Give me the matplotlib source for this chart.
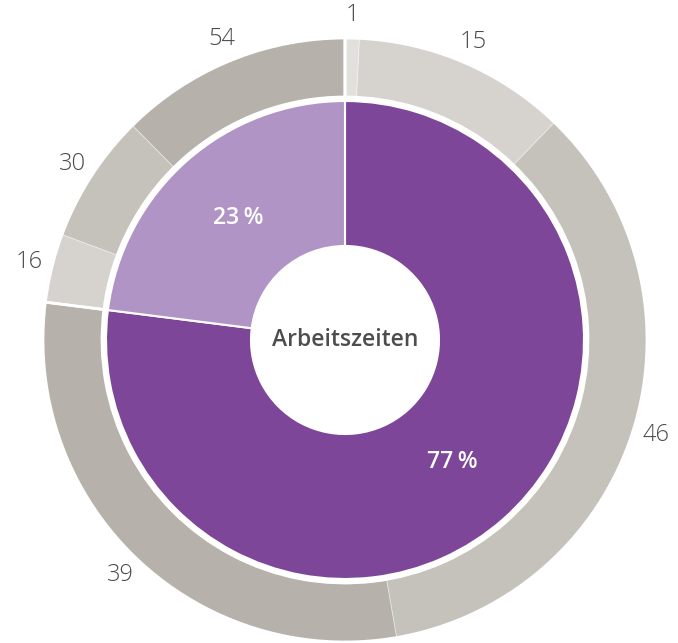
import matplotlib.pyplot as plt

# ----------------------------
# Data
# ----------------------------
inner_labels = ["77\u2009%", "23\u2009%"]
inner_values = [77, 23]

# outer ring: shares inside each inner group (clockwise from top)
outer_group1 = [1, 15, 46, 39]
outer_group2 = [16, 30, 54]

inner_colors = ["#7d4698", "#b094c6"]
outer_colors = ["#e2e0dc", "#d6d3ce", "#c5c1bb", "#b6b2ab",
                "#d6d3ce", "#c5c1bb", "#b6b2ab"]

plt.rcParams['font.family'] = ['Open Sans', 'DejaVu Sans']

# ----------------------------
# Figure (1 data unit = 1 pixel)
# ----------------------------
W, H = 678, 643
fig = plt.figure(figsize=(W / 100, H / 100), dpi=100)
ax = fig.add_axes([0, 0, 1, 1])
ax.set_xlim(0, W)
ax.set_ylim(0, H)
ax.set_aspect('equal')
ax.axis('off')

center = (345, H - 340)
r_outer, w_outer = 302, 59
r_inner, r_hole = 239, 94

# outer ring sizes scaled into the inner group angles
outer_sizes = [inner_values[0] * v / sum(outer_group1) for v in outer_group1] + \
              [inner_values[1] * v / sum(outer_group2) for v in outer_group2]
outer_labels = [str(v) for v in outer_group1 + outer_group2]

wedges, texts = ax.pie(outer_sizes, radius=r_outer, center=center,
                       colors=outer_colors, startangle=90, counterclock=False,
                       labels=outer_labels, labeldistance=325 / r_outer,
                       wedgeprops=dict(width=w_outer, edgecolor=(1, 1, 1, 0.45), linewidth=0.6),
                       textprops=dict(fontsize=17, color="#4a4a4a", fontweight='light'))
for t in texts:
    t.set_horizontalalignment('center')
    t.set_verticalalignment('center')

# white separators between the two groups on the outer ring
ax.pie(inner_values, radius=r_outer, center=center, startangle=90, counterclock=False,
       wedgeprops=dict(width=w_outer, facecolor='none', edgecolor='white', linewidth=2))

# inner donut
w2, t2 = ax.pie(inner_values, radius=r_inner, center=center,
                colors=inner_colors, startangle=90, counterclock=False,
                labels=inner_labels, labeldistance=162 / r_inner,
                wedgeprops=dict(width=r_inner - r_hole, edgecolor='white', linewidth=1.5),
                textprops=dict(fontsize=16.5, color="white", fontweight='semibold'))
for t in t2:
    t.set_horizontalalignment('center')
    t.set_verticalalignment('center')

ax.text(center[0], center[1], "Arbeitszeiten", ha='center', va='center',
        fontsize=16.5, color="#4d4d4d", fontweight='semibold')

ax.set_xlim(0, W)
ax.set_ylim(0, H)

fig.savefig("out.png", dpi=100)
